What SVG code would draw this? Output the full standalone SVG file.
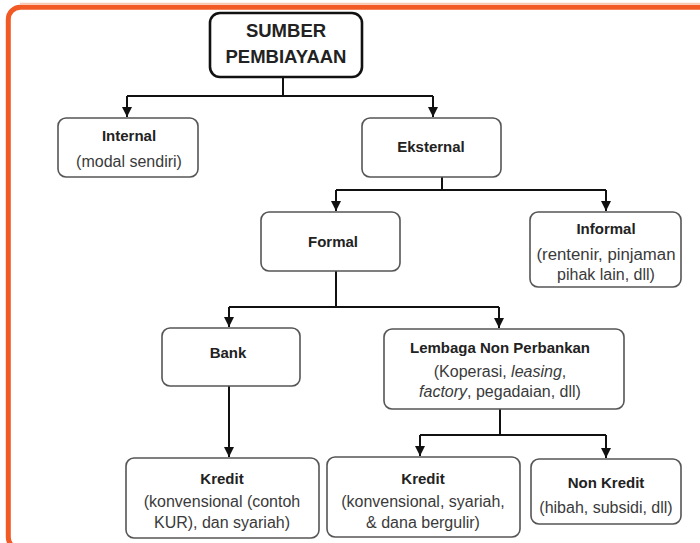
<svg xmlns="http://www.w3.org/2000/svg" width="700" height="543" viewBox="0 0 700 543">
<defs>
<marker id="ah" viewBox="0 0 10 10" refX="10" refY="5" markerWidth="10" markerHeight="10" markerUnits="userSpaceOnUse" orient="auto">
<path d="M0,0 L10,5 L0,10 Z" fill="#111"/>
</marker>
<style>
.box{fill:#fff;stroke:#555;stroke-width:1.6}
.root{fill:#fff;stroke:#111;stroke-width:2.6}
.t{font-family:"Liberation Sans",Arial,sans-serif;font-size:16px;fill:#3a3a3a;text-anchor:middle}
.b{font-weight:bold;fill:#222;font-size:15px}
.r{font-size:18.5px}
.c{fill:none;stroke:#111;stroke-width:2}
</style>
</defs>
<rect width="700" height="543" fill="#fff"/>
<line x1="20" y1="3.5" x2="700" y2="3.5" stroke="#f8c9b0" stroke-width="1.5"/>
<rect x="8.3" y="7.2" width="720" height="542" rx="12" fill="none" stroke="#f15a24" stroke-width="5"/>

<g id="connectors">
<path class="c" d="M283,77 V96 M127,96 H433"/>
<path class="c" d="M127,96 V117" marker-end="url(#ah)"/>
<path class="c" d="M433,96 V117" marker-end="url(#ah)"/>
<path class="c" d="M442,177 V190 M336,190 H606"/>
<path class="c" d="M336,190 V211" marker-end="url(#ah)"/>
<path class="c" d="M606,190 V211" marker-end="url(#ah)"/>
<path class="c" d="M336,271 V307 M229,307 H499"/>
<path class="c" d="M229,307 V327" marker-end="url(#ah)"/>
<path class="c" d="M499,307 V328" marker-end="url(#ah)"/>
<path class="c" d="M229,386 V457" marker-end="url(#ah)"/>
<path class="c" d="M500,409 V435 M420,435 H606"/>
<path class="c" d="M420,435 V456" marker-end="url(#ah)"/>
<path class="c" d="M606,435 V458" marker-end="url(#ah)"/>
</g>

<g id="sumber">
<rect class="root" x="210" y="13" width="152" height="64" rx="10"/>
<text class="t b r" x="286" y="37">SUMBER</text>
<text class="t b r" x="286" y="63">PEMBIAYAAN</text>
</g>

<g id="internal">
<rect class="box" x="58" y="118" width="140" height="59" rx="8"/>
<text class="t b" x="129" y="141">Internal</text>
<text class="t" x="129" y="167">(modal sendiri)</text>
</g>

<g id="eksternal">
<rect class="box" x="362" y="118" width="139" height="59" rx="8"/>
<text class="t b" x="431" y="152">Eksternal</text>
</g>

<g id="formal">
<rect class="box" x="261" y="212" width="139" height="59" rx="8"/>
<text class="t b" x="333" y="247">Formal</text>
</g>

<g id="informal">
<rect class="box" x="530" y="212" width="151" height="75" rx="8"/>
<text class="t b" x="606" y="234">Informal</text>
<text class="t" x="606" y="260" textLength="139" lengthAdjust="spacingAndGlyphs">(rentenir, pinjaman</text>
<text class="t" x="606" y="280">pihak lain, dll)</text>
</g>

<g id="bank">
<rect class="box" x="162" y="328" width="138" height="58" rx="8"/>
<text class="t b" x="228" y="358">Bank</text>
</g>

<g id="lembaga">
<rect class="box" x="384" y="329" width="240" height="80" rx="8"/>
<text class="t b" x="500" y="353">Lembaga Non Perbankan</text>
<text class="t" x="500" y="377">(Koperasi, <tspan font-style="italic">leasing</tspan>,</text>
<text class="t" x="500" y="397"><tspan font-style="italic">factory</tspan>, pegadaian, dll)</text>
</g>

<g id="kredit-bank">
<rect class="box" x="126" y="458" width="193" height="80" rx="8"/>
<text class="t b" x="222" y="484">Kredit</text>
<text class="t" x="222" y="507">(konvensional (contoh</text>
<text class="t" x="222" y="528">KUR), dan syariah)</text>
</g>

<g id="kredit-lnp">
<rect class="box" x="327" y="457" width="193" height="80" rx="8"/>
<text class="t b" x="423" y="484">Kredit</text>
<text class="t" x="423" y="507">(konvensional, syariah,</text>
<text class="t" x="423" y="528">&amp; dana bergulir)</text>
</g>

<g id="non-kredit">
<rect class="box" x="531" y="459" width="150" height="65" rx="8"/>
<text class="t b" x="606" y="488">Non Kredit</text>
<text class="t" x="606" y="513">(hibah, subsidi, dll)</text>
</g>
</svg>
